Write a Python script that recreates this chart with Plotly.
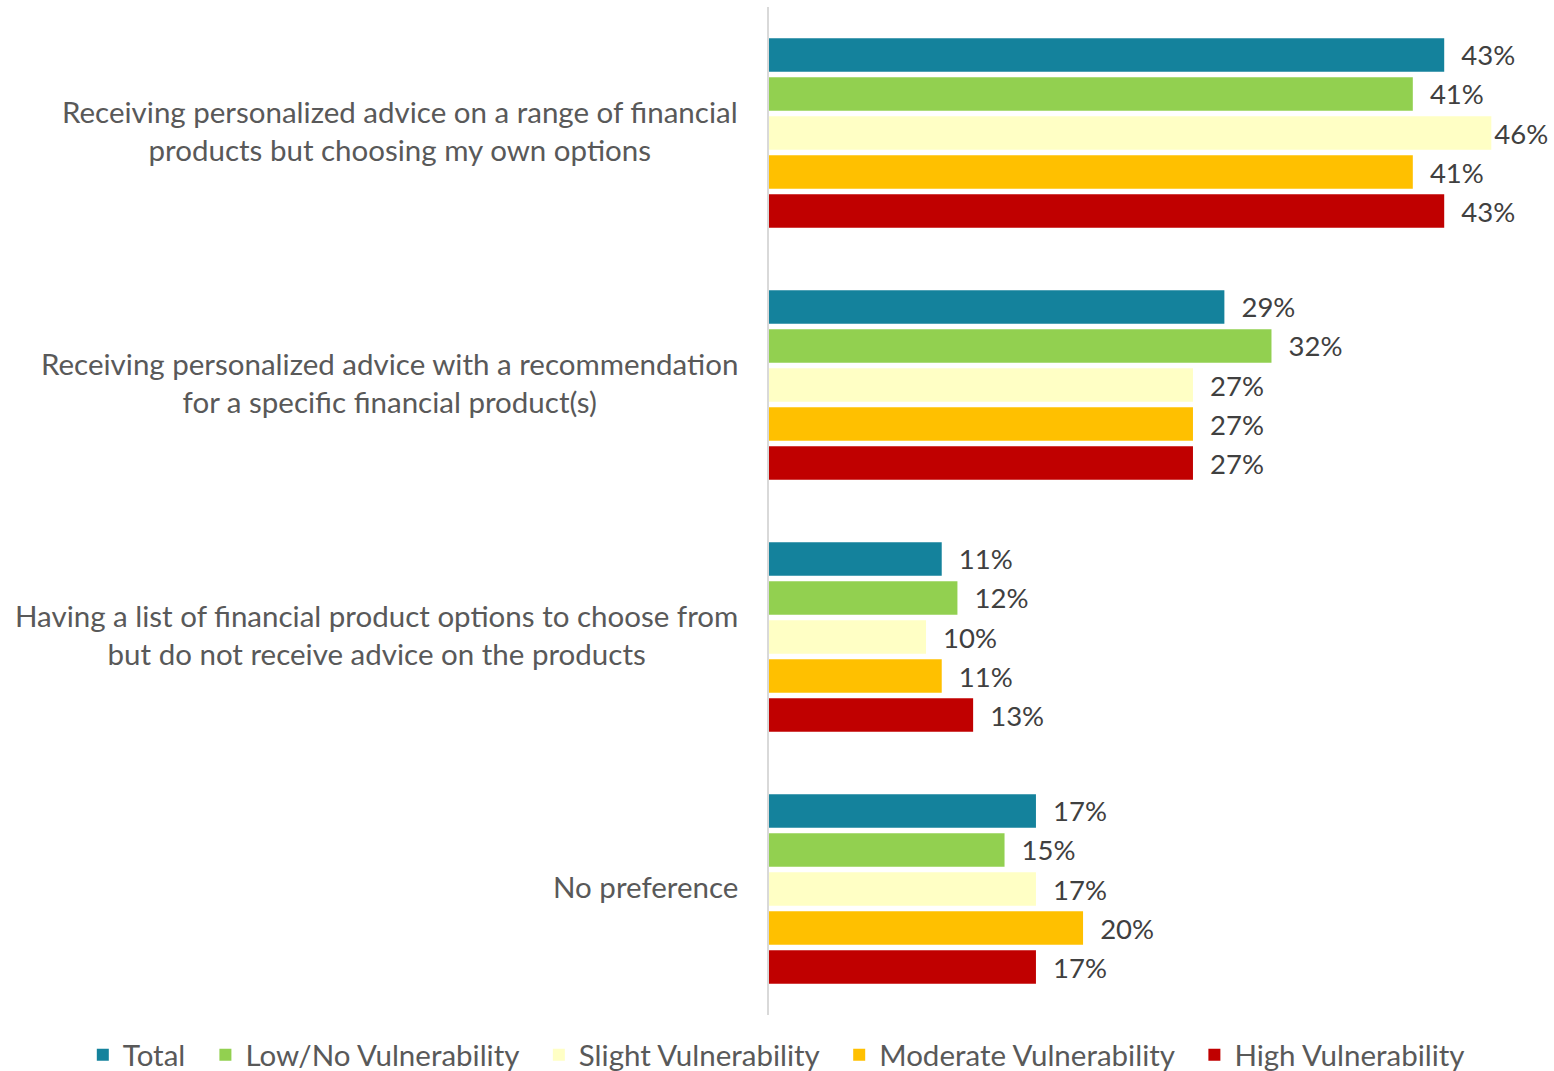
import plotly.graph_objects as go

# Survey answers (top to bottom) and share of respondents per vulnerability group
categories = [
    "Receiving personalized advice on a range of financial<br>products but choosing my own options",
    "Receiving personalized advice with a recommendation<br>for a specific financial product(s)",
    "Having a list of financial product options to choose from<br>but do not receive advice on the products",
    "No preference",
]
series_names = [
    "Total",
    "Low/No Vulnerability",
    "Slight Vulnerability",
    "Moderate Vulnerability",
    "High Vulnerability",
]
total = [43, 29, 11, 17]
low_no = [41, 32, 12, 15]
slight = [46, 27, 10, 17]
moderate = [41, 27, 11, 20]
high = [43, 27, 13, 17]
series_values = [total, low_no, slight, moderate, high]
colors = ["#14829C", "#92D050", "#FFFFC5", "#FFC000", "#C00000"]

FONT = "Lato"
LABEL_GREY = "#595959"
VALUE_GREY = "#404040"
X_MAX = 49.1
NBSP = "\u00a0"


def value_label(v):
    # the longest bar sits close to the right edge, so its label hugs the bar
    pad = "" if v >= 45 else NBSP * 2
    return f"{pad}{v}%"


fig = go.Figure()
for name, vals, col in zip(series_names, series_values, colors):
    fig.add_trace(go.Bar(
        y=categories,
        x=vals,
        name=name + NBSP * 2,
        orientation="h",
        marker=dict(color=col, line=dict(width=0)),
        text=[value_label(v) for v in vals],
        textposition="outside",
        textfont=dict(family=FONT, size=27.5, color=VALUE_GREY),
        constraintext="none",
        cliponaxis=False,
        hoverinfo="skip",
    ))

# Category labels: right-aligned block, lines centred on each other
for cat in categories:
    fig.add_annotation(
        xref="paper", yref="y", x=0, y=cat,
        text=cat, showarrow=False,
        xanchor="right", yanchor="middle", align="center",
        xshift=-29, yshift=3,
        font=dict(family=FONT, size=29.5, color=LABEL_GREY),
    )

fig.update_layout(
    width=1554, height=1071,
    margin=dict(l=769, r=14, t=7, b=56, autoexpand=False),
    paper_bgcolor="white",
    plot_bgcolor="white",
    barmode="group",
    bargap=0.226,
    bargroupgap=0.14,
    showlegend=True,
    legend=dict(
        orientation="h",
        xref="paper", yref="paper",
        x=-0.89, xanchor="left",
        y=-0.0397, yanchor="middle",
        font=dict(family=FONT, size=29.5, color=LABEL_GREY),
        itemclick=False, itemdoubleclick=False,
    ),
    xaxis=dict(
        range=[0, X_MAX],
        showgrid=False, zeroline=False,
        showticklabels=False, showline=False, ticks="",
    ),
    yaxis=dict(
        autorange="reversed",
        showgrid=False, zeroline=False,
        showticklabels=False, ticks="",
        showline=True, linecolor="#D9D9D9", linewidth=2,
    ),
)

fig.write_html("out.html")
